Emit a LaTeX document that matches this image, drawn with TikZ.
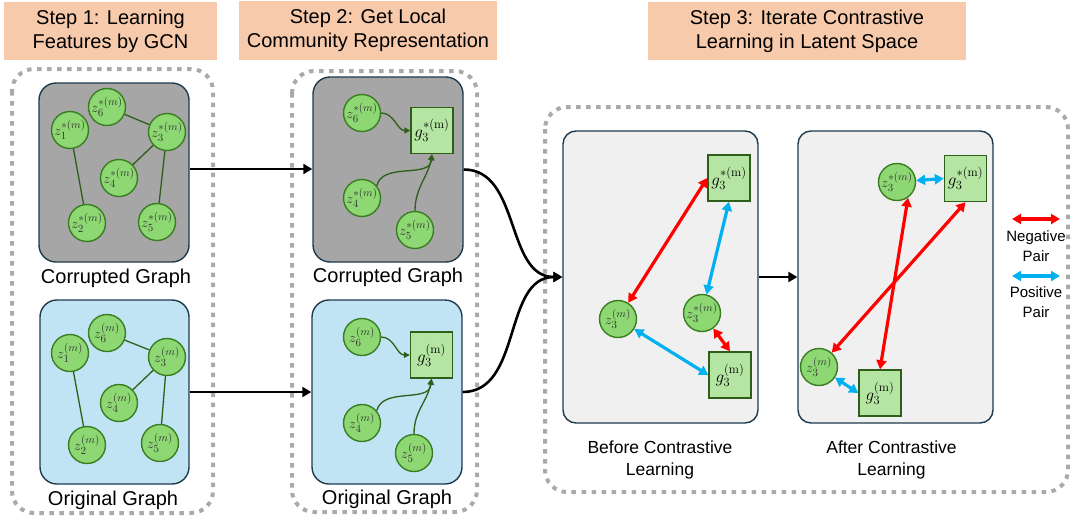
\RequirePackage{fix-cm}
\documentclass[tikz,border=0pt]{standalone}
\usepackage[no-math]{fontspec}
\setmainfont{Liberation Sans}
\usetikzlibrary{arrows.meta}
\DeclareMathSizes{14}{14}{11}{8}
\DeclareMathSizes{17}{17}{12.5}{9}
\definecolor{peach}{HTML}{F7CAAC}
\definecolor{darkgraybox}{HTML}{A6A6A6}
\definecolor{lightbluebox}{HTML}{C1E4F5}
\definecolor{panelgray}{HTML}{F0F0F0}
\definecolor{navyline}{HTML}{1F3A4D}
\definecolor{circfill}{HTML}{8ED873}
\definecolor{circline}{HTML}{3B7D23}
\definecolor{sqfill}{HTML}{B4E5A2}
\definecolor{sqline}{HTML}{2F5E1A}
\definecolor{edgegreen}{HTML}{2F5E1A}
\definecolor{framegray}{HTML}{AAAAAA}
\definecolor{posblue}{HTML}{00B0F0}
\definecolor{negred}{HTML}{FF0000}
\definecolor{labelgray}{HTML}{333333}
\begin{document}
\begin{tikzpicture}[x=1pt,y=-1pt,
  titlebox/.style={fill=peach, draw=none, inner sep=0pt, align=center, font=\fontsize{20}{24}\selectfont},
  graybox/.style={fill=darkgraybox, draw=navyline, line width=1.4pt, rounded corners=17pt, inner sep=0pt},
  bluebox/.style={fill=lightbluebox, draw=navyline, line width=1.4pt, rounded corners=17pt, inner sep=0pt},
  panel/.style={fill=panelgray, draw=navyline, line width=1.4pt, rounded corners=13pt, inner sep=0pt, minimum width=195pt, minimum height=292pt},
  zc/.style={circle, fill=circfill, draw=circline, line width=1.4pt, minimum size=37pt, inner sep=0pt, text=labelgray, font=\fontsize{14}{15}\selectfont},
  sq/.style={rectangle, fill=sqfill, draw=sqline, line width=1.4pt, minimum width=42pt, minimum height=46pt, inner sep=0pt, font=\fontsize{17}{18}\selectfont},
  gedge/.style={draw=edgegreen, line width=1.3pt},
  garrow/.style={draw=edgegreen, line width=1.3pt, -{Triangle[length=6pt,width=6pt]}},
  frame/.style={draw=framegray, line width=4pt, dash pattern=on 4.5pt off 5.5pt, rounded corners=22pt},
  barrow/.style={draw=black, line width=2.6pt, -{Triangle[length=9pt,width=10pt]}},
  negarrow/.style={draw=negred, line width=3.2pt, {Triangle[length=9pt,width=10pt]}-{Triangle[length=9pt,width=10pt]}},
  posarrow/.style={draw=posblue, line width=3.2pt, {Triangle[length=9pt,width=10pt]}-{Triangle[length=9pt,width=10pt]}},
  glabel/.style={font=\fontsize{20}{24}\selectfont, anchor=base, inner sep=0pt},
  plabel/.style={font=\fontsize{17.5}{21.5}\selectfont, align=center, inner sep=0pt},
  leglabel/.style={font=\fontsize{15}{19.3}\selectfont, align=center, inner sep=0pt}
]
\useasboundingbox (0,0) rectangle (1071,523);

% title boxes
\node[titlebox, minimum width=213pt, minimum height=58pt] (t1) at (110.5,31) {Step 1: Learning\\Features by GCN};
\node[titlebox, minimum width=258pt, minimum height=59pt] (t2) at (368,30.5) {Step 2: Get Local\\Community Representation};
\node[titlebox, minimum width=318pt, minimum height=58pt] (t3) at (807,31) {Step 3: Iterate Contrastive\\Learning in Latent Space};

% dotted frames
\draw[frame] (12,69) rectangle (213,513);
\draw[frame] (292,71) rectangle (477,512);
\draw[frame] (545,107) rectangle (1068,492);

% step 1 boxes
\node[graybox, minimum width=150pt, minimum height=179pt] (c1) at (114,172.5) {};
\node[bluebox, minimum width=149pt, minimum height=184pt] (o1) at (114.5,392) {};
\node[glabel] (c1l) at (116,283) {Corrupted Graph};
\node[glabel] (o1l) at (113,505) {Original Graph};

% step 1 corrupted graph
\node[zc] (a1) at (70,130) {$z_1^{*(m)}$};
\node[zc] (a2) at (87,223) {$z_2^{*(m)}$};
\node[zc] (a3) at (167,132) {$z_3^{*(m)}$};
\node[zc] (a4) at (119,178) {$z_4^{*(m)}$};
\node[zc] (a5) at (157,222) {$z_5^{*(m)}$};
\node[zc] (a6) at (107,107) {$z_6^{*(m)}$};
\draw[gedge] (a6) -- (a3);
\draw[gedge] (a1) -- (a2);
\draw[gedge] (a3) -- (a4);
\draw[gedge] (a3) -- (a5);

% step 1 original graph
\node[zc] (b1) at (70,353) {$z_1^{(m)}$};
\node[zc] (b2) at (87,445) {$z_2^{(m)}$};
\node[zc] (b3) at (167,357) {$z_3^{(m)}$};
\node[zc] (b4) at (119,403) {$z_4^{(m)}$};
\node[zc] (b5) at (160,443) {$z_5^{(m)}$};
\node[zc] (b6) at (107,333) {$z_6^{(m)}$};
\draw[gedge] (b6) -- (b3);
\draw[gedge] (b1) -- (b2);
\draw[gedge] (b3) -- (b4);
\draw[gedge] (b3) -- (b5);

% step 2 boxes
\node[graybox, minimum width=150pt, minimum height=185pt] (c2) at (388,169.5) {};
\node[bluebox, minimum width=150pt, minimum height=184pt] (o2) at (387,392) {};
\node[glabel] (c2l) at (388,282) {Corrupted Graph};
\node[glabel] (o2l) at (387,504) {Original Graph};

\node[zc] (s6) at (362,113) {$z_6^{*(m)}$};
\node[zc] (s4) at (362,198) {$z_4^{*(m)}$};
\node[zc] (s5) at (415,230) {$z_5^{*(m)}$};
\node[sq] (sg) at (432,130.5) {$g_3^{*(\mathrm{m})}$};
\draw[garrow] (s6) to[out=0,in=180] (sg.west);
\draw[garrow] (s4.40) to[out=75,in=-95] (sg.south);
\draw[garrow] (s5.north) to[out=90,in=-100] (sg.south);

\node[zc] (o6) at (362,337) {$z_6^{(m)}$};
\node[zc] (o4) at (362,423) {$z_4^{(m)}$};
\node[zc] (o5) at (414,453) {$z_5^{(m)}$};
\node[sq] (og) at (431.5,355) {$g_3^{(\mathrm{m})}$};
\draw[garrow] (o6) to[out=0,in=180] (og.west);
\draw[garrow] (o4.40) to[out=75,in=-95] (og.south);
\draw[garrow] (o5.north) to[out=90,in=-100] (og.south);

% step 3 panels
\node[panel] (bx) at (660.5,277) {};
\node[panel] (ax) at (895.5,277) {};
\node[plabel] (bxl) at (660,460) {Before Contrastive\\Learning};
\node[plabel] (axl) at (891.5,460) {After Contrastive\\Learning};

% before
\node[zc] (zb) at (618,319) {$z_3^{(m)}$};
\node[zc] (zsb) at (702,313) {$z_3^{*(m)}$};
\node[sq] (gsb) at (729,178) {$g_3^{*(\mathrm{m})}$};
\node[sq] (gb) at (730,375) {$g_3^{(\mathrm{m})}$};
\draw[negarrow] (zb) -- (gsb.west);
\draw[posarrow] (gsb.south) -- (zsb);
\draw[negarrow] (zsb) -- (gb.north);
\draw[posarrow] (zb) -- (gb.west);

% after
\node[zc] (zsa) at (897,182) {$z_3^{*(m)}$};
\node[sq] (gsa) at (965.5,178.5) {$g_3^{*(\mathrm{m})}$};
\node[zc] (za) at (819,367) {$z_3^{(m)}$};
\node[sq] (ga) at (880,393) {$g_3^{(\mathrm{m})}$};
\draw[posarrow] (zsa) -- (gsa.west);
\draw[negarrow] (zsa.-55) -- (ga.north);
\draw[negarrow] (gsa.south) -- (za);
\draw[posarrow] (za) -- (ga.west);

% connectors
\draw[barrow] (c1.east |- 0,169) -- (c2.west |- 0,169);
\draw[barrow] (o1.east) -- (o2.west);
\draw[barrow] (c2.east) to[out=0,in=180] (bx.west);
\draw[barrow] (o2.east) to[out=0,in=180] (bx.west);
\draw[barrow] (bx.east) -- (ax.west);

% legend
\coordinate (ln1) at (1012,219);
\coordinate (ln2) at (1060,219);
\coordinate (lp1) at (1012,276);
\coordinate (lp2) at (1060,276);
\draw[negarrow] (ln1) -- (ln2);
\draw[posarrow] (lp1) -- (lp2);
\node[leglabel] (negl) at (1036,246) {Negative\\Pair};
\node[leglabel] (posl) at (1036,302) {Positive\\Pair};
\end{tikzpicture}
\end{document}
